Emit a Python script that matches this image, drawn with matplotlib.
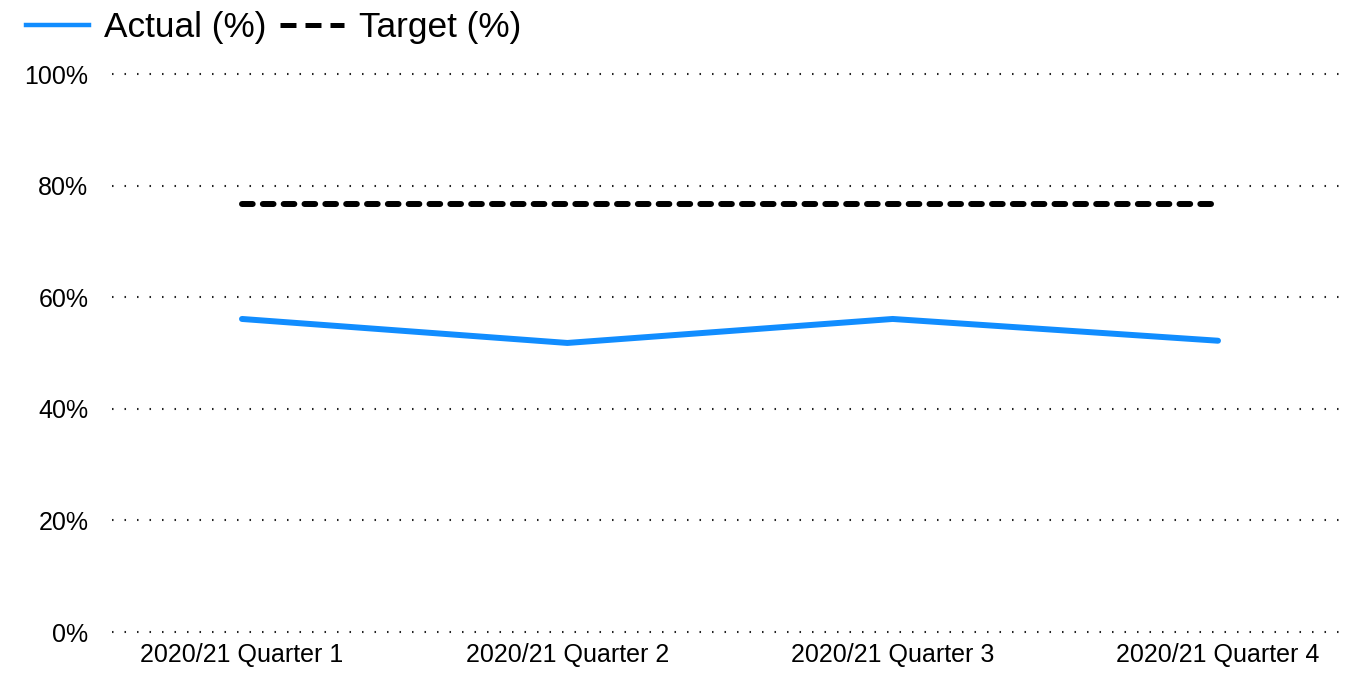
import matplotlib
matplotlib.use('Agg')
import matplotlib.pyplot as plt
from matplotlib.lines import Line2D

plt.rcParams['font.family'] = ['Liberation Sans', 'DejaVu Sans']
plt.rcParams['lines.scale_dashes'] = False

# data
quarters = ['2020/21 Quarter 1', '2020/21 Quarter 2', '2020/21 Quarter 3', '2020/21 Quarter 4']
actual = [56.1, 51.8, 56.1, 52.2]
target = [76.7, 76.7, 76.7, 76.7]
yticks = [0, 20, 40, 60, 80, 100]

blue = '#118DFF'

fig = plt.figure(figsize=(13.49, 6.8), dpi=100)
ax = fig.add_axes([112 / 1349, 1 - 632 / 680, (1340 - 112) / 1349, (632 - 74) / 680])

ind = list(range(len(quarters)))

# dotted gridlines (one dot every ~12.5 px)
for v in yticks:
    ax.axhline(v, color='#222222', linewidth=1.5, linestyle=(0, (1.1, 7.9)),
               clip_on=False, zorder=1)

ax.plot(ind, actual, color=blue, linewidth=4.3, solid_capstyle='round',
        solid_joinstyle='round', zorder=3)
ax.plot(ind, target, color='black', linewidth=4.3, linestyle=(0, (7.7, 7.3)),
        dash_capstyle='round', zorder=3)

ax.set_xlim(-0.3996, 3.375)
ax.set_ylim(0, 100)
ax.set_xticks(ind)
ax.set_xticklabels(quarters, fontsize=18)
ax.set_yticks(yticks)
ax.set_yticklabels([str(v) + '%' for v in yticks], fontsize=18)
ax.tick_params(axis='both', length=0)
ax.tick_params(axis='y', pad=17)
ax.tick_params(axis='x', pad=8)

for s in ax.spines.values():
    s.set_visible(False)

handles = [Line2D([], [], color=blue, linewidth=3.2),
           Line2D([], [], color='black', linewidth=3.6, linestyle=(0, (11.5, 6.5)),
                  dash_capstyle='butt')]
fig.legend(handles, ['Actual (%)', 'Target (%)'], loc='center left',
           bbox_to_anchor=(0.019, 1 - 28 / 680), ncol=2, frameon=False,
           fontsize=25.4, handlelength=1.8, handletextpad=0.42,
           columnspacing=0.4, borderaxespad=0, borderpad=0)

fig.savefig('out.png', dpi=100)
